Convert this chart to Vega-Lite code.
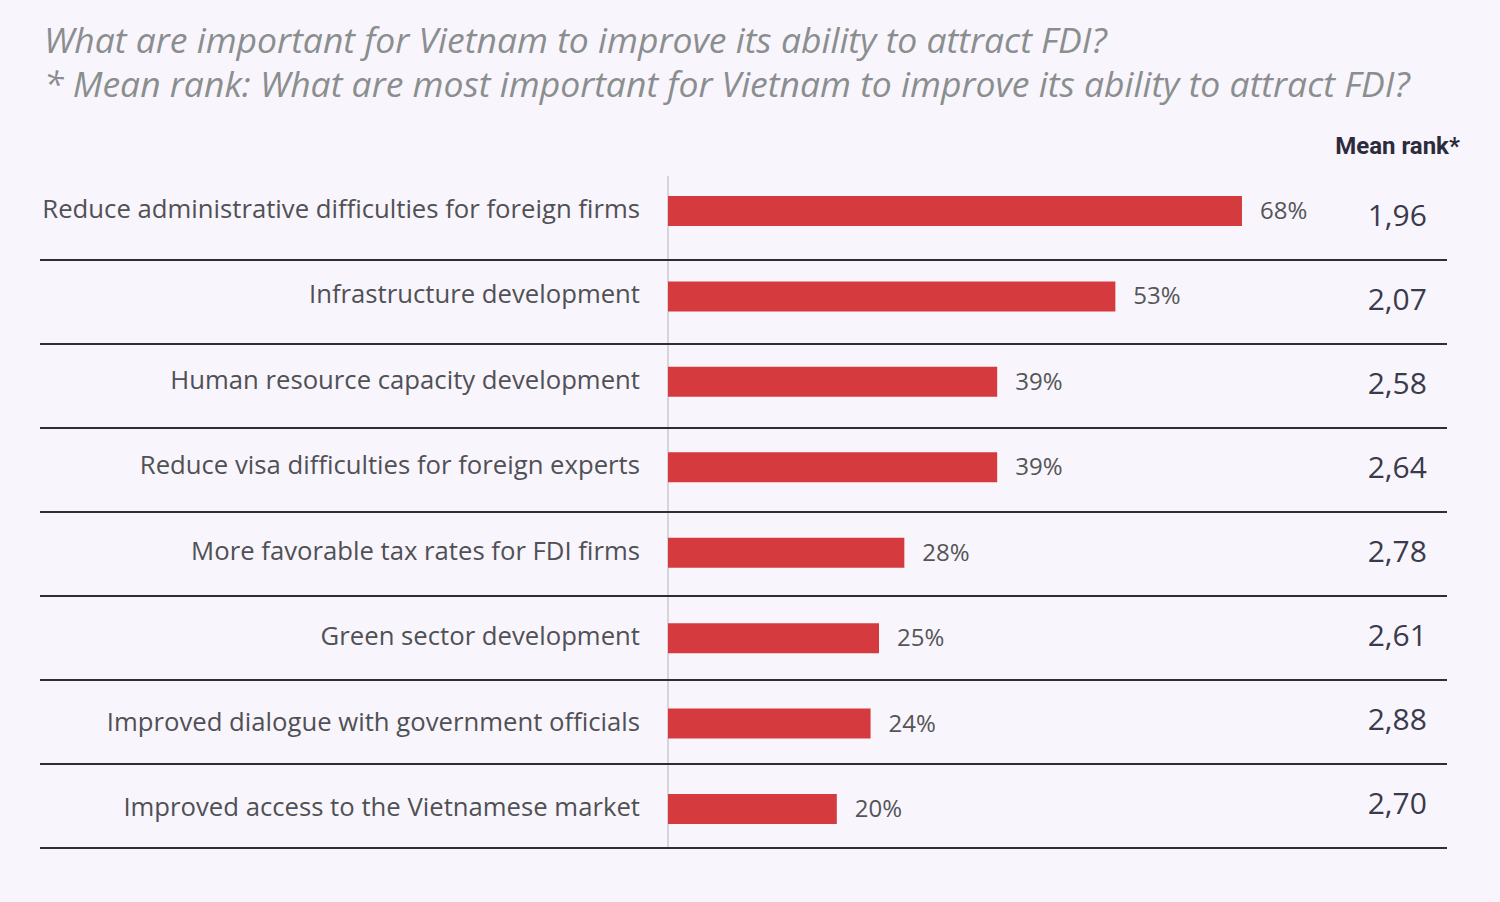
{
  "$schema": "https://vega.github.io/schema/vega-lite/v6.json",
  "autosize": "none",
  "width": 1407,
  "height": 672,
  "padding": {"left": 40, "top": 176, "right": 53, "bottom": 54},
  "background": "#f8f6fc",
  "config": {"view": {"stroke": null}, "font": "Open Sans"},
  "title": {
    "text": ["What are important for Vietnam to improve its ability to attract FDI?", "* Mean rank: What are most important for Vietnam to improve its ability to attract FDI?"],
    "anchor": "start",
    "dx": 5,
    "offset": 30,
    "font": "Open Sans",
    "fontSize": 35.5,
    "fontStyle": "italic",
    "fontWeight": "normal",
    "color": "#8b8e8f",
    "lineHeight": 44
  },
  "data": {
    "values": [
      {"item": "Reduce administrative difficulties for foreign firms", "pct": 0.68, "rank": "1,96"},
      {"item": "Infrastructure development", "pct": 0.53, "rank": "2,07"},
      {"item": "Human resource capacity development", "pct": 0.39, "rank": "2,58"},
      {"item": "Reduce visa difficulties for foreign experts", "pct": 0.39, "rank": "2,64"},
      {"item": "More favorable tax rates for FDI firms", "pct": 0.28, "rank": "2,78"},
      {"item": "Green sector development", "pct": 0.25, "rank": "2,61"},
      {"item": "Improved dialogue with government officials", "pct": 0.24, "rank": "2,88"},
      {"item": "Improved access to the Vietnamese market", "pct": 0.20, "rank": "2,70"}
    ]
  },
  "resolve": {"scale": {"y": "independent"}},
  "layer": [
    {
      "mark": {"type": "rule", "color": "#d6d6da", "strokeWidth": 1.5},
      "encoding": {"x": {"datum": 0, "type": "quantitative"}}
    },
    {
      "mark": {"type": "rule", "color": "#2e2e33", "strokeWidth": 2},
      "encoding": {"y": {"field": "item", "type": "nominal", "sort": null, "bandPosition": 1, "axis": null,
                         "scale": {"paddingInner": 0, "paddingOuter": 0}}}
    },
    {
      "mark": {"type": "bar", "color": "#d43a3e", "height": 30},
      "encoding": {
        "y": {"field": "item", "type": "nominal", "sort": null, "axis": null,
              "scale": {"range": [-7.7, 675.7], "paddingInner": 0, "paddingOuter": 0}},
        "x": {"field": "pct", "type": "quantitative",
              "scale": {"domain": [-0.744, 0.9229], "nice": false, "zero": false},
              "axis": {"orient": "top", "labels": false, "ticks": false, "domain": false, "grid": false,
                       "title": "Mean rank*", "titleX": 1357, "titleY": -23, "titleAlign": "center",
                       "titleBaseline": "alphabetic", "titleFont": "Roboto", "titleFontSize": 24,
                       "titleFontWeight": "bold", "titleColor": "#2b2b3b"}}
      }
    },
    {
      "mark": {"type": "text", "align": "left", "baseline": "middle", "dx": 18, "yOffset": 1, "fontSize": 24, "color": "#555558"},
      "encoding": {
        "y": {"field": "item", "type": "nominal", "sort": null, "axis": null,
              "scale": {"range": [-7.7, 675.7], "paddingInner": 0, "paddingOuter": 0}},
        "x": {"field": "pct", "type": "quantitative"},
        "text": {"field": "pct", "type": "quantitative", "format": ".0%"}
      }
    },
    {
      "mark": {"type": "text", "align": "right", "baseline": "middle", "dx": -28, "yOffset": -1, "fontSize": 25.7, "color": "#505055"},
      "encoding": {
        "y": {"field": "item", "type": "nominal", "sort": null, "axis": null,
              "scale": {"range": [-7.7, 675.7], "paddingInner": 0, "paddingOuter": 0}},
        "x": {"datum": 0, "type": "quantitative"},
        "text": {"field": "item", "type": "nominal"}
      }
    },
    {
      "mark": {"type": "text", "align": "center", "baseline": "middle", "yOffset": -1, "fontSize": 30, "color": "#3a3a4c"},
      "encoding": {
        "y": {"field": "item", "type": "nominal", "sort": null, "axis": null,
              "scale": {"paddingInner": 0, "paddingOuter": 0}},
        "x": {"datum": 0.864, "type": "quantitative"},
        "text": {"field": "rank", "type": "nominal"}
      }
    }
  ]
}
